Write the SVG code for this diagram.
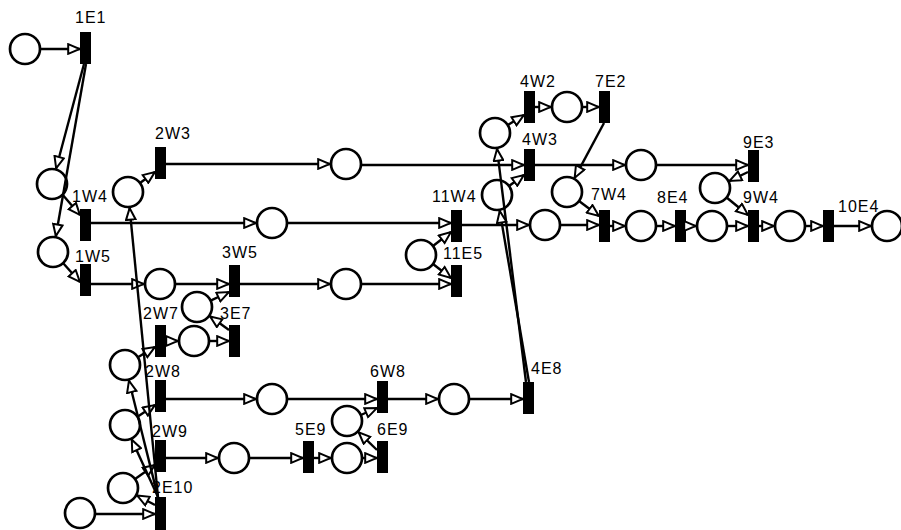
<svg xmlns="http://www.w3.org/2000/svg" width="901" height="530" viewBox="0 0 901 530">
<style>
.p{fill:#fff;stroke:#000;stroke-width:2.7}
.t{fill:#000}
.l{font-family:"Liberation Sans",Arial,sans-serif;font-size:16px;letter-spacing:1px;fill:#000}
.a{stroke:#000;stroke-width:2.4;fill:none;marker-end:url(#ah)}
</style>
<defs>
<marker id="ah" markerUnits="userSpaceOnUse" viewBox="0 0 14 12" markerWidth="14" markerHeight="12" refX="13" refY="6" orient="auto">
<path d="M1.2,1.2 L12.8,6 L1.2,10.8 Z" fill="#fff" stroke="#000" stroke-width="2"/>
</marker>
</defs>
<rect width="901" height="530" fill="#fff"/>
<g id="nodes">
<g id="p1"><circle class="p" cx="25" cy="49" r="15"/></g>
<g id="p2"><circle class="p" cx="52" cy="184" r="15"/></g>
<g id="p3"><circle class="p" cx="53" cy="252" r="15"/></g>
<g id="p4"><circle class="p" cx="128" cy="192" r="15"/></g>
<g id="p5"><circle class="p" cx="272" cy="223" r="15"/></g>
<g id="p6"><circle class="p" cx="160" cy="284" r="15"/></g>
<g id="p7"><circle class="p" cx="346" cy="164" r="15"/></g>
<g id="p8"><circle class="p" cx="346" cy="284" r="15"/></g>
<g id="p9"><circle class="p" cx="197" cy="307" r="15"/></g>
<g id="p10"><circle class="p" cx="194" cy="341" r="15"/></g>
<g id="p11"><circle class="p" cx="125" cy="365" r="15"/></g>
<g id="p12"><circle class="p" cx="272" cy="399" r="15"/></g>
<g id="p13"><circle class="p" cx="125" cy="425" r="15"/></g>
<g id="p14"><circle class="p" cx="234" cy="458" r="15"/></g>
<g id="p15"><circle class="p" cx="123" cy="488" r="15"/></g>
<g id="p16"><circle class="p" cx="80" cy="513" r="15"/></g>
<g id="p17"><circle class="p" cx="347" cy="421" r="15"/></g>
<g id="p18"><circle class="p" cx="347" cy="458" r="15"/></g>
<g id="p19"><circle class="p" cx="454" cy="399" r="15"/></g>
<g id="p20"><circle class="p" cx="421" cy="255" r="15"/></g>
<g id="p21"><circle class="p" cx="497" cy="195" r="15"/></g>
<g id="p22"><circle class="p" cx="495" cy="133" r="15"/></g>
<g id="p23"><circle class="p" cx="567" cy="107" r="15"/></g>
<g id="p24"><circle class="p" cx="567" cy="192" r="15"/></g>
<g id="p25"><circle class="p" cx="545" cy="225" r="15"/></g>
<g id="p26"><circle class="p" cx="641" cy="165" r="15"/></g>
<g id="p27"><circle class="p" cx="641" cy="226" r="15"/></g>
<g id="p28"><circle class="p" cx="715" cy="188" r="15"/></g>
<g id="p29"><circle class="p" cx="712" cy="226" r="15"/></g>
<g id="p30"><circle class="p" cx="790" cy="226" r="15"/></g>
<g id="p31"><circle class="p" cx="887" cy="226" r="15"/></g>

<g id="t1E1"><rect class="t" x="80" y="32" width="11" height="32"/><text class="l" x="75" y="23">1E1</text></g>
<g id="t2W3"><rect class="t" x="155" y="147" width="11" height="32"/><text class="l" x="155" y="139">2W3</text></g>
<g id="t1W4"><rect class="t" x="80" y="209" width="11" height="32"/><text class="l" x="72" y="202">1W4</text></g>
<g id="t1W5"><rect class="t" x="80" y="264" width="11" height="32"/><text class="l" x="75" y="262">1W5</text></g>
<g id="t3W5"><rect class="t" x="229" y="265" width="11" height="32"/><text class="l" x="222" y="258">3W5</text></g>
<g id="t2W7"><rect class="t" x="155" y="325" width="11" height="32"/><text class="l" x="143" y="319">2W7</text></g>
<g id="t3E7"><rect class="t" x="229" y="325" width="11" height="32"/><text class="l" x="220" y="319">3E7</text></g>
<g id="t2W8"><rect class="t" x="155" y="380" width="11" height="32"/><text class="l" x="145" y="377">2W8</text></g>
<g id="t2W9"><rect class="t" x="155" y="440" width="11" height="32"/><text class="l" x="152" y="437">2W9</text></g>
<g id="t2E10"><rect class="t" x="155" y="497" width="11" height="33"/><text class="l" x="152" y="493">2E10</text></g>
<g id="t5E9"><rect class="t" x="303" y="441" width="11" height="32"/><text class="l" x="295" y="435">5E9</text></g>
<g id="t6E9"><rect class="t" x="377" y="441" width="11" height="32"/><text class="l" x="377" y="435">6E9</text></g>
<g id="t6W8"><rect class="t" x="377" y="381" width="11" height="32"/><text class="l" x="370" y="377">6W8</text></g>
<g id="t4E8"><rect class="t" x="523" y="382" width="11" height="32"/><text class="l" x="531" y="374">4E8</text></g>
<g id="t11W4"><rect class="t" x="451" y="210" width="11" height="32"/><text class="l" x="432" y="202">11W4</text></g>
<g id="t11E5"><rect class="t" x="451" y="265" width="11" height="32"/><text class="l" x="443" y="259">11E5</text></g>
<g id="t4W2"><rect class="t" x="524" y="91" width="11" height="32"/><text class="l" x="520" y="87">4W2</text></g>
<g id="t4W3"><rect class="t" x="524" y="149" width="11" height="32"/><text class="l" x="522" y="145">4W3</text></g>
<g id="t7E2"><rect class="t" x="599" y="91" width="11" height="32"/><text class="l" x="595" y="87">7E2</text></g>
<g id="t7W4"><rect class="t" x="599" y="210" width="11" height="32"/><text class="l" x="591" y="200">7W4</text></g>
<g id="t8E4"><rect class="t" x="675" y="210" width="11" height="32"/><text class="l" x="657" y="203">8E4</text></g>
<g id="t9E3"><rect class="t" x="748" y="150" width="11" height="32"/><text class="l" x="743" y="148">9E3</text></g>
<g id="t9W4"><rect class="t" x="748" y="210" width="11" height="32"/><text class="l" x="743" y="203">9W4</text></g>
<g id="t10E4"><rect class="t" x="823" y="210" width="11" height="32"/><text class="l" x="838" y="212">10E4</text></g>
</g>
<g id="connectors">
<line class="a" x1="40" y1="49" x2="80" y2="49"/>
<line class="a" x1="84" y1="64" x2="56.1" y2="168.5"/>
<line class="a" x1="86" y1="64" x2="55.8" y2="236.2"/>
<line class="a" x1="62" y1="194" x2="80" y2="215"/>
<line class="a" x1="63" y1="263" x2="80" y2="282"/>
<line class="a" x1="91" y1="223" x2="256" y2="223"/>
<line class="a" x1="91" y1="284" x2="144" y2="284"/>
<line class="a" x1="140" y1="183" x2="155" y2="172"/>
<line class="a" x1="166" y1="164" x2="330" y2="164"/>
<line class="a" x1="362" y1="165" x2="524" y2="165"/>
<line class="a" x1="535" y1="165" x2="625" y2="165"/>
<line class="a" x1="657" y1="165" x2="748" y2="165"/>
<line class="a" x1="288" y1="223" x2="451" y2="223"/>
<line class="a" x1="433" y1="246" x2="451" y2="232"/>
<line class="a" x1="433" y1="264" x2="451" y2="278"/>
<line class="a" x1="362" y1="284" x2="451" y2="284"/>
<line class="a" x1="240" y1="284" x2="330" y2="284"/>
<line class="a" x1="176" y1="284" x2="229" y2="284"/>
<line class="a" x1="210.6" y1="300.6" x2="229" y2="292"/>
<line class="a" x1="229" y1="330" x2="210" y2="316.3"/>
<line class="a" x1="166" y1="341" x2="178" y2="341"/>
<line class="a" x1="210" y1="341" x2="229" y2="341"/>
<line class="a" x1="137.9" y1="357.3" x2="155" y2="347"/>
<line class="a" x1="166" y1="399" x2="256" y2="399"/>
<line class="a" x1="288" y1="399" x2="377" y2="399"/>
<line class="a" x1="388" y1="399" x2="438" y2="399"/>
<line class="a" x1="470" y1="399" x2="523" y2="399"/>
<line class="a" x1="360.8" y1="415" x2="377" y2="408"/>
<line class="a" x1="137.5" y1="416.7" x2="155" y2="405"/>
<line class="a" x1="166" y1="458" x2="218" y2="458"/>
<line class="a" x1="250" y1="458" x2="303" y2="458"/>
<line class="a" x1="314" y1="458" x2="331" y2="458"/>
<line class="a" x1="363" y1="458" x2="377" y2="458"/>
<line class="a" x1="377" y1="450" x2="358.5" y2="432.1"/>
<line class="a" x1="135" y1="479" x2="155" y2="465"/>
<line class="a" x1="155" y1="505" x2="137.1" y2="495.5"/>
<line class="a" x1="95" y1="514" x2="155" y2="514"/>
<line class="a" x1="158" y1="497" x2="129.6" y2="207.9"/>
<line class="a" x1="158" y1="497" x2="128.9" y2="380.5"/>
<line class="a" x1="158" y1="497" x2="131.7" y2="439.5"/>
<line class="a" x1="526" y1="382" x2="497" y2="148.9"/>
<line class="a" x1="529" y1="382" x2="499.7" y2="210.8"/>
<line class="a" x1="507.8" y1="125.1" x2="524" y2="115"/>
<line class="a" x1="509" y1="186" x2="524" y2="175"/>
<line class="a" x1="535" y1="107" x2="551" y2="107"/>
<line class="a" x1="583" y1="107" x2="599" y2="107"/>
<line class="a" x1="604" y1="123" x2="574.6" y2="177.9"/>
<line class="a" x1="462" y1="225" x2="529" y2="225"/>
<line class="a" x1="561" y1="225" x2="599" y2="225"/>
<line class="a" x1="579" y1="201" x2="599" y2="216"/>
<line class="a" x1="610" y1="226" x2="625" y2="226"/>
<line class="a" x1="657" y1="226" x2="675" y2="226"/>
<line class="a" x1="686" y1="226" x2="696" y2="226"/>
<line class="a" x1="728" y1="226" x2="748" y2="226"/>
<line class="a" x1="748" y1="172" x2="729.4" y2="181"/>
<line class="a" x1="726.6" y1="197.5" x2="748" y2="215"/>
<line class="a" x1="759" y1="226" x2="774" y2="226"/>
<line class="a" x1="806" y1="226" x2="823" y2="226"/>
<line class="a" x1="834" y1="226" x2="871" y2="226"/>
</g>
</svg>
